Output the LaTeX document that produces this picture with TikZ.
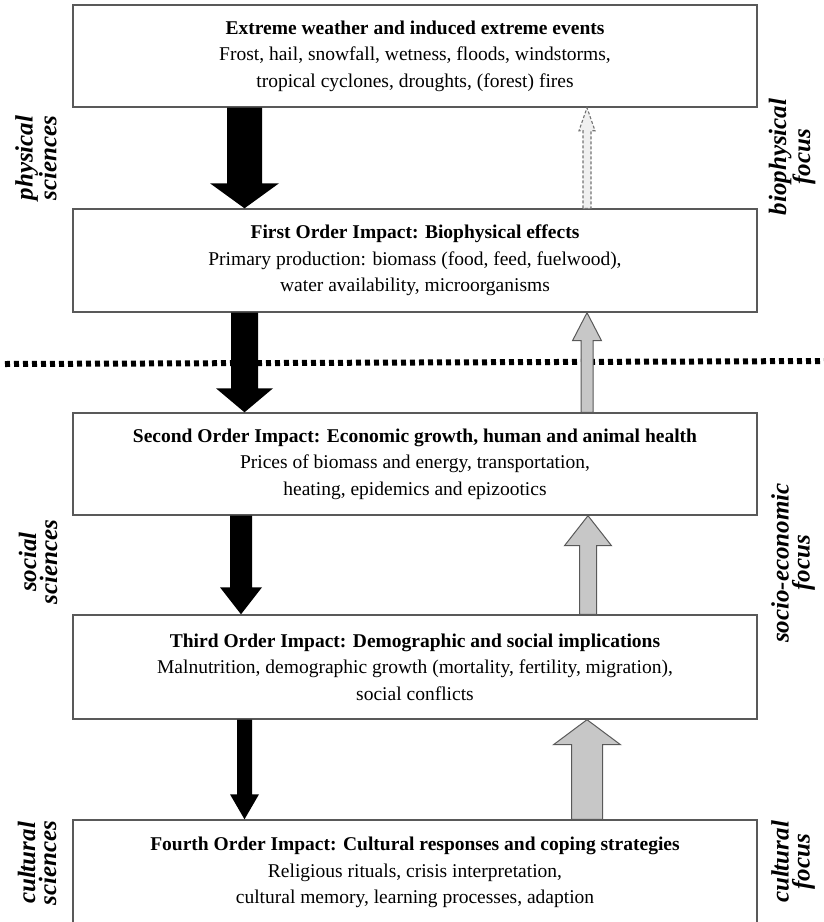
\documentclass[tikz,border=0pt]{standalone}
\usepackage{fontspec}
\setmainfont{Liberation Serif}
\usetikzlibrary{calc}

\tikzset{
  box/.style={draw=black!65, line width=1.4pt, fill=white, minimum width=684pt,
    minimum height=102pt, inner sep=0pt, align=center,
    font=\fontsize{19.5}{26.5}\selectfont},
  side/.style={rotate=90, align=center, font=\fontsize{25}{21}\selectfont\bfseries\itshape},
  downarrow/.style={fill=black},
  uparrow/.style={fill=black!22, draw=black!65, line width=1pt},
  faintarrow/.style={fill=black!6, draw=black!55, line width=1.1pt, dash pattern=on 3pt off 2pt},
}

%% block arrow: style, start, tip, half shaft, half head, head length
\newcommand{\blockarrow}[6]{%
  \path[#1] let \p1=(#2), \p2=(#3), \n1={sign(\y2-\y1)} in
    (\x1-#4,\y1) -- (\x1-#4,\y2-\n1*#6) -- (\x1-#5,\y2-\n1*#6) -- (\x1,\y2)
    -- (\x1+#5,\y2-\n1*#6) -- (\x1+#4,\y2-\n1*#6) -- (\x1+#4,\y1) -- cycle;}

\begin{document}
\begin{tikzpicture}[x=1pt, y=-1pt]
  \useasboundingbox (0,0) rectangle (824,922);

  %% ---- divider between biophysical and socio-economic part ----
  \draw[line width=6pt, dash pattern=on 5pt off 4pt] (5,364) -- (830,361);

  %% ---- impact levels ----
  \node[box] (b1) at (415,56)
    {\textbf{Extreme weather and induced extreme events}\\
     Frost, hail, snowfall, wetness, floods, windstorms,\\
     tropical cyclones, droughts, (forest) fires};
  \node[box, minimum height=103pt] (b2) at (415,260.5)
    {\textbf{First Order Impact: Biophysical effects}\\
     Primary production: biomass (food, feed, fuelwood),\\
     water availability, microorganisms};
  \node[box] (b3) at (415,464)
    {\textbf{Second Order Impact: Economic growth, human and animal health}\\
     Prices of biomass and energy, transportation,\\
     heating, epidemics and epizootics};
  \node[box, minimum height=104pt] (b4) at (415,667)
    {\textbf{Third Order Impact: Demographic and social implications}\\
     Malnutrition, demographic growth (mortality, fertility, migration),\\
     social conflicts};
  \node[box, minimum height=105pt] (b5) at (415,872.5)
    {\textbf{Fourth Order Impact: Cultural responses and coping strategies}\\
     Religious rituals, crisis interpretation,\\
     cultural memory, learning processes, adaption};

  %% ---- arrow columns ----
  \coordinate (dn) at (244.5,0);
  \coordinate (dn3) at (241,0);
  \coordinate (up) at (587,0);
  \coordinate (up3) at (588,0);

  %% ---- downward impacts (black, narrowing) ----
  \blockarrow{downarrow}{b1.south -| dn}{b2.north -| dn}{17.5pt}{34.5pt}{25pt}
  \blockarrow{downarrow}{b2.south -| dn}{b3.north -| dn}{13.5pt}{28.5pt}{24pt}
  \blockarrow{downarrow}{b3.south -| dn3}{b4.north -| dn3}{11pt}{21pt}{27pt}
  \blockarrow{downarrow}{b4.south -| dn}{b5.north -| dn}{7.5pt}{14.5pt}{25pt}

  %% ---- upward feedback (grey, widening) ----
  \blockarrow{faintarrow}{b2.north -| up}{b1.south -| up}{4pt}{8pt}{23pt}
  \blockarrow{uparrow}{b3.north -| up}{b2.south -| up}{6pt}{14.5pt}{28pt}
  \blockarrow{uparrow}{b4.north -| up3}{b3.south -| up3}{8.5pt}{23.5pt}{30pt}
  \blockarrow{uparrow}{b5.north -| up}{b4.south -| up}{15.5pt}{33.5pt}{25pt}

  %% ---- disciplines (left) and focus (right) ----
  \node[side] (phys) at (36,158) {physical\\sciences};
  \node[side] (soc) at (38,562) {social\\sciences};
  \node[side] (cult) at (37,863) {cultural\\sciences};
  \node[side] (bio) at (792,157) {biophysical\\focus};
  \node[side] (socec) at (793,563) {socio-economic\\focus};
  \node[side] (cultf) at (793,862) {cultural\\focus};

\end{tikzpicture}
\end{document}
